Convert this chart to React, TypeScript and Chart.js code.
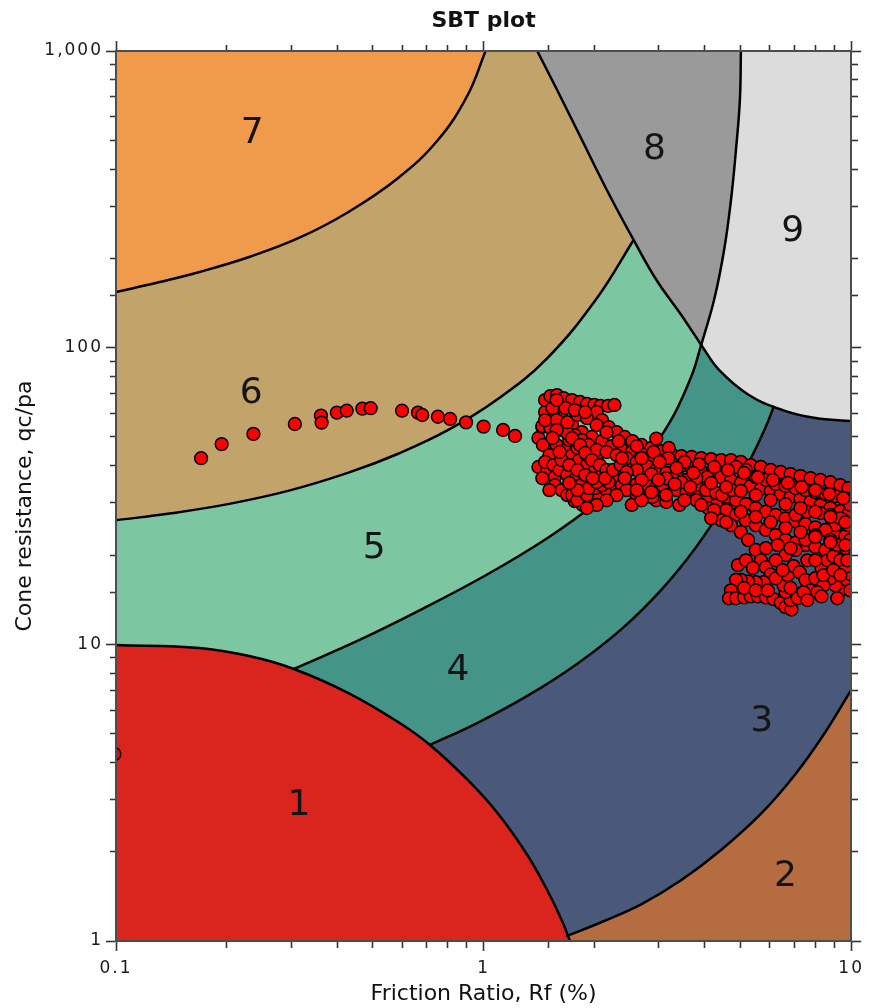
import React, { useEffect, useRef } from "react";
import { Chart, registerables } from "chart.js";

Chart.register(...registerables);

type P = [number, number];

// ---------- text ----------
const chartTitle = "SBT plot";
const xAxisTitle = "Friction Ratio, Rf (%)";
const yAxisTitle = "Cone resistance, qc/pa";

// ---------- axes ----------
const xRange: P = [0.1, 10];
const yRange: P = [1, 1000];
const xTickValues = [0.1, 1, 10];
const xTickLabels = ["0.1", "1", "10"];
const yTickValues = [1, 10, 100, 1000];
const yTickLabels = ["1", "10", "100", "1,000"];

// ---------- zone boundaries (Rf %, qc/pa) ----------
const edgeZone1: P[] = [[0.1, 9.95], [0.1687, 9.72], [0.2303, 9.13], [0.3047, 8.26], [0.4289, 6.85], [0.5856, 5.47], [0.7147, 4.58], [0.9052, 3.49], [1.091, 2.7], [1.315, 1.95], [1.489, 1.486], [1.635, 1.168], [1.718, 1.0]];
const edge2to3: P[] = [[10, 7.02], [8.508, 5.064], [7.058, 3.656], [5.676, 2.68], [4.426, 2.026], [3.453, 1.605], [2.691, 1.332], [2.097, 1.159], [1.687, 1.04]];
const edge3to4: P[] = [[0.7147, 4.58], [0.9634, 5.44], [1.315, 6.7], [1.795, 8.59], [2.376, 11.28], [3.048, 15.3], [3.788, 21.3], [4.566, 30.2], [5.334, 42.4], [5.856, 54.1], [6.155, 63.2]];
const edge4to5: P[] = [[0.3047, 8.26], [0.4566, 10.31], [0.6841, 13.2], [1.0252, 17.23], [1.489, 22.79], [2.033, 30.14], [2.608, 39.85], [3.182, 55.05], [3.675, 80.1], [3.908, 102.1]];
const edge5to6: P[] = [[0.1, 26.2], [0.1399, 27.6], [0.2033, 29.75], [0.2954, 32.96], [0.4289, 37.9], [0.5856, 43.9], [0.7993, 52.7], [1.091, 67.0], [1.489, 92.1], [2.033, 146.8], [2.559, 230.7]];
const edge6to7: P[] = [[0.1, 154], [0.1315, 166.4], [0.1687, 179.9], [0.2303, 202.1], [0.3144, 234.3], [0.4289, 286.7], [0.5856, 373.3], [0.7511, 501], [0.9052, 710.8], [1.0125, 1000]];
const edgeZone8Left: P[] = [[1.3993, 1000], [1.585, 738.9], [1.852, 501], [2.164, 340], [2.559, 230.7], [2.953, 169.1], [3.45, 128.9], [3.908, 102.1]];
const edge8to9: P[] = [[5.012, 1000], [4.98, 684], [4.859, 463.9], [4.71, 314.6], [4.51, 213], [4.236, 144.7], [3.908, 102.1]];
const edgeZone9Bottom: P[] = [[3.908, 102.1], [4.37, 84.1], [5.268, 69.24], [6.51, 61.6], [7.993, 57.9], [10, 56.6]];

// ---------- zone labels ----------
const zoneNames = ["1", "2", "3", "4", "5", "6", "7", "8", "9"];
const zoneLabelAt: P[] = [[0.3144, 2.942], [6.63, 1.695], [5.712, 5.645], [0.851, 8.39], [0.5043, 21.6], [0.2332, 72.0], [0.2346, 541], [2.917, 478], [6.928, 253]];

// ---------- CPT trace points (Rf %, qc/pa) ----------
const edgePoint: P[] = [[0.099, 4.27]];
const trailPoints: P[] = [[0.1704, 42.4], [0.1938, 47.3], [0.2365, 51.2], [0.3066, 55.3], [0.361, 59.0], [0.3625, 55.9], [0.399, 60.4], [0.4244, 61.3], [0.468, 62.3], [0.493, 62.5], [0.6, 61.3], [0.663, 60.4], [0.681, 59.3], [0.751, 58.5], [0.811, 57.5], [0.896, 56.0], [1.0, 54.2], [1.13, 52.8], [1.218, 50.4]];
const upperBand: P[] = [[1.41, 49.6], [1.445, 54.0], [1.47, 60.7], [1.47, 66.6], [1.52, 68.7], [1.584, 69.2], [1.65, 67.6], [1.74, 66.6], [1.83, 65.6], [1.91, 64.6], [2.0, 64.1], [2.08, 63.6], [2.18, 63.6], [2.27, 64.1], [2.03, 60.7], [2.1, 57.0], [2.19, 54.0], [2.3, 51.9], [2.42, 50.0], [2.54, 48.4], [2.69, 47.0], [2.86, 45.9], [3.05, 44.8], [3.24, 43.8], [3.45, 43.1], [3.68, 42.8], [3.91, 42.4], [4.16, 42.1], [4.43, 41.8], [4.71, 41.8], [5.01, 41.2], [5.33, 40.2], [5.68, 39.6], [6.04, 38.7], [6.43, 38.1], [6.84, 37.5], [7.28, 36.9], [7.75, 36.3], [8.25, 35.8], [8.78, 35.2], [9.34, 34.4], [9.82, 33.6]];
const secondBand: P[] = [[1.445, 54.4], [1.52, 53.6], [1.63, 57.9], [1.74, 54.85], [1.85, 51.9], [1.97, 50.0], [2.1, 48.4], [2.23, 46.6], [2.38, 45.2], [2.53, 44.5], [2.69, 43.8], [2.86, 43.1], [3.05, 41.8], [3.24, 40.8], [3.45, 39.9], [3.68, 39.3], [3.91, 38.4], [4.16, 37.5], [4.43, 36.6], [4.71, 35.8], [5.01, 35.0], [5.33, 34.2], [5.68, 33.4], [6.04, 32.9], [6.43, 32.1], [6.84, 31.4], [7.28, 30.9], [7.75, 30.2], [8.25, 29.5], [8.78, 28.8], [9.34, 28.1], [9.82, 27.5]];
const lowerBand: P[] = [[1.41, 39.6], [1.49, 38.7], [1.56, 36.6], [1.565, 34.4], [1.63, 33.1], [1.69, 31.85], [1.77, 30.4], [1.86, 29.5], [1.93, 30.6], [2.03, 31.85], [2.16, 33.1], [2.3, 33.9], [2.45, 34.2], [2.61, 34.7], [2.78, 34.4], [2.95, 33.9], [3.14, 33.6], [3.35, 33.1], [3.56, 32.4], [3.79, 31.4], [4.03, 30.4], [4.29, 29.5], [4.57, 28.35], [4.86, 27.3], [5.17, 26.2], [5.5, 25.2], [5.86, 24.3], [6.23, 23.35], [6.63, 22.5], [7.06, 22.0], [7.51, 21.6], [7.99, 21.3], [8.51, 20.8], [9.06, 20.3], [9.64, 19.8], [9.94, 19.2]];
const middleBand: P[] = [[1.58, 47.0], [1.67, 45.2], [1.74, 43.45], [1.82, 41.8], [1.91, 40.2], [2.01, 38.7], [2.1, 37.2], [2.19, 36.3], [2.03, 41.8], [1.91, 43.45], [1.8, 45.9], [1.71, 48.8], [1.77, 50.75], [1.85, 48.8], [1.93, 47.0], [2.03, 45.2], [2.16, 44.5], [2.3, 43.45], [2.45, 42.4], [2.61, 41.2], [2.78, 39.9], [2.95, 38.7], [3.14, 37.8], [3.35, 36.9], [3.56, 35.8], [3.79, 34.4], [4.03, 33.1], [4.29, 32.4], [4.57, 31.4], [4.86, 30.6], [5.17, 29.7], [5.5, 28.8], [5.86, 28.0], [6.23, 27.3], [6.63, 26.6], [7.06, 26.0], [7.51, 25.4], [7.99, 24.8], [8.51, 24.3], [9.06, 23.7], [9.64, 23.2]];
const bottomLobe: P[] = [[3.79, 30.6], [4.08, 28.8], [4.24, 28.0], [4.43, 26.2], [4.71, 25.2], [5.01, 23.9], [5.24, 22.5], [5.5, 20.8], [5.68, 19.2], [5.86, 18.2], [6.04, 17.2], [5.78, 16.2], [5.5, 16.2], [5.24, 16.3], [5.01, 16.5], [4.86, 16.5], [4.71, 15.2], [4.65, 14.3], [4.86, 14.3], [5.11, 14.4], [5.33, 14.5], [5.57, 14.5], [5.86, 14.4], [6.15, 14.2], [6.43, 13.8], [6.63, 13.35], [6.88, 13.1], [6.84, 14.1], [6.63, 15.0], [6.55, 15.8], [6.72, 17.1], [6.97, 18.35], [7.24, 17.5], [7.51, 16.5], [7.75, 15.2], [7.99, 16.7], [8.3, 18.1], [8.61, 19.2], [8.94, 19.8], [9.34, 19.2], [9.64, 17.8], [9.94, 16.7], [9.64, 15.8], [9.34, 15.2], [9.06, 15.8], [8.78, 16.7], [8.4, 15.8], [8.09, 15.0]];
const rightCluster: P[] = [[5.86, 35.8], [6.23, 34.7], [6.63, 34.2], [7.06, 33.6], [7.51, 33.1], [7.99, 32.6], [8.51, 32.1], [9.06, 31.6], [9.64, 31.1], [9.94, 29.5], [9.52, 26.2], [9.06, 25.2], [8.51, 24.3], [7.99, 23.35], [7.51, 22.5], [7.06, 20.8], [6.63, 20.0], [6.23, 19.2], [7.06, 27.3], [7.6, 28.0], [8.25, 27.7], [8.78, 27.3], [9.34, 26.6], [9.82, 25.2], [9.94, 22.5], [9.64, 21.1], [9.17, 21.6], [8.78, 22.5]];
const extraPoints: P[] = [[1.54, 62.6], [1.58, 57.0], [1.63, 52.8], [1.69, 51.5], [1.74, 49.6], [1.83, 47.0], [1.89, 44.2], [1.97, 41.8], [2.07, 40.2], [2.16, 38.7], [2.23, 37.2], [2.3, 35.8], [2.38, 34.4], [2.45, 33.1], [2.61, 31.85], [2.78, 31.4], [2.95, 30.6], [3.14, 30.2], [3.41, 29.5], [4.24, 28.35], [2.88, 31.4], [3.07, 34.4], [4.06, 36.6], [4.45, 31.85], [4.74, 33.1], [4.86, 39.6], [5.17, 38.7], [5.5, 36.6], [1.74, 31.85], [1.8, 30.6], [1.91, 31.85], [2.01, 33.6], [2.1, 34.4], [2.19, 35.2], [2.95, 49.4], [3.19, 45.9]];
const fillBandA: P[] = [[2.33, 48.4], [2.61, 46.6], [2.9, 44.5], [3.18, 42.4], [3.52, 41.2], [3.86, 40.5], [4.24, 39.6], [4.62, 38.7], [5.11, 37.8], [5.57, 36.6], [6.12, 35.8], [6.72, 35.0], [7.33, 33.9], [7.99, 33.1], [8.72, 32.1], [9.52, 31.1]];
const fillBandB: P[] = [[3.79, 36.3], [4.16, 35.0], [4.57, 33.9], [5.01, 32.9], [5.5, 31.85], [6.04, 30.6], [6.63, 29.7], [7.28, 28.8], [7.99, 28.0], [8.78, 26.9], [9.64, 25.8], [2.61, 38.7], [2.86, 37.5], [3.14, 36.3], [3.45, 35.2]];
const fillBandC: P[] = [[5.01, 28.0], [5.5, 26.9], [6.04, 25.8], [6.63, 24.7], [7.28, 23.9], [7.99, 23.0], [8.78, 22.1], [9.64, 21.6], [4.57, 25.8], [4.16, 26.6]];
const fillLobe: P[] = [[4.92, 18.5], [5.17, 19.2], [5.4, 18.1], [5.11, 15.5], [5.5, 15.2], [5.93, 15.2], [6.23, 16.7], [6.51, 17.8], [6.84, 15.5], [7.15, 14.3], [7.42, 15.0], [7.6, 19.2], [7.99, 19.2], [8.4, 17.1], [8.94, 17.8], [9.34, 17.1], [9.76, 19.2], [9.94, 15.2], [6.31, 21.6], [6.84, 21.1], [5.86, 21.1], [7.6, 14.1], [8.3, 14.5], [9.17, 14.3]];
const fillLeftBlob: P[] = [[1.45, 47.0], [1.51, 43.45], [1.47, 41.2], [1.55, 40.2], [1.61, 38.7], [1.69, 37.2], [1.76, 35.8], [1.84, 34.4], [1.93, 33.6], [2.03, 35.2], [2.14, 36.3], [2.25, 38.7], [2.36, 40.2], [2.45, 38.1], [2.3, 31.85], [2.16, 30.6], [2.03, 29.5], [1.91, 28.8], [1.8, 33.1], [1.71, 35.0], [1.63, 41.8], [1.71, 40.2], [1.8, 38.7], [1.89, 37.2], [1.98, 36.3], [1.58, 52.8], [1.69, 56.1], [1.8, 59.3], [1.91, 57.9], [2.03, 54.85], [2.16, 51.9], [1.67, 62.6], [1.77, 61.6], [1.89, 60.7], [1.47, 57.0], [1.54, 49.6], [1.61, 44.5], [1.445, 36.3], [1.51, 33.1], [2.53, 29.5], [2.69, 30.6], [1.58, 66.6]];
const fillMiddle: P[] = [[2.42, 36.3], [2.69, 35.8], [2.99, 35.8], [3.31, 34.7], [3.65, 33.9], [2.61, 33.1], [2.86, 32.6], [3.14, 31.85], [3.52, 30.6], [3.91, 29.5], [2.38, 42.4], [2.69, 42.4], [3.01, 41.2], [3.35, 39.3], [3.72, 37.8]];

// ---------- styles ----------
const zoneColor = {
  z1: "#DA251E", z2: "#B56C41", z3: "#4A5979", z4: "#449488", z5: "#7CC6A2",
  z6: "#C2A46A", z7: "#F09B4C", z8: "#9A9A9A", z9: "#DCDCDC",
};
const FONT = '"DejaVu Sans", Verdana, sans-serif';

const boundaries: P[][] = [edgeZone1, edge2to3, edge3to4, edge4to5, edge5to6, edge6to7, edgeZone8Left, edge8to9, edgeZone9Bottom];

type Piece = { e: number; from: number; to: number } | { p: P };
const E = (e: number, from?: number, to?: number): Piece => ({
  e,
  from: from ?? 0,
  to: to ?? boundaries[e].length - 1,
});
const C = (p: P): Piece => ({ p });
const last = (a: P[]) => a[a.length - 1];

const zones: { color: string; pieces: Piece[] }[] = [
  { color: zoneColor.z3, pieces: [C([xRange[0], yRange[0]]), C([xRange[1], yRange[0]]), C([xRange[1], yRange[1]]), C([xRange[0], yRange[1]])] },
  { color: zoneColor.z2, pieces: [E(1), C([last(edge2to3)[0], yRange[0]]), C([xRange[1], yRange[0]])] },
  { color: zoneColor.z4, pieces: [C([xRange[0], yRange[0]]), E(2), C([last(edge3to4)[0], yRange[1]]), C([xRange[0], yRange[1]])] },
  { color: zoneColor.z5, pieces: [C([xRange[0], yRange[0]]), E(3), C([last(edge4to5)[0], yRange[1]]), C([xRange[0], yRange[1]])] },
  { color: zoneColor.z6, pieces: [E(4), E(6, 4, 0), C([xRange[0], yRange[1]])] },
  { color: zoneColor.z7, pieces: [E(5), C([xRange[0], yRange[1]])] },
  { color: zoneColor.z8, pieces: [E(6), E(7, edge8to9.length - 1, 0)] },
  { color: zoneColor.z9, pieces: [E(7), E(8), C([xRange[1], yRange[1]])] },
  { color: zoneColor.z1, pieces: [E(0), C([xRange[0], yRange[0]])] },
];

const allPoints: P[] = [...edgePoint, ...trailPoints, ...upperBand, ...secondBand, ...lowerBand, ...middleBand, ...bottomLobe, ...rightCluster, ...extraPoints, ...fillBandA, ...fillBandB, ...fillBandC, ...fillLobe, ...fillLeftBlob, ...fillMiddle];

const toXY = (pts: P[]) => pts.map(([x, y]) => ({ x, y }));
const isDecade = (v: number) => {
  const l = Math.log10(v);
  return Math.abs(l - Math.round(l)) < 1e-6;
};
const labelFor = (values: number[], labels: string[]) => (v: any) => {
  const n = Number(v);
  const i = values.findIndex((t) => Math.abs(Math.log10(t) - Math.log10(n)) < 1e-6);
  return i >= 0 ? labels[i] : "";
};

const zonePlugin = {
  id: "sbtZones",
  beforeDraw(chart: any) {
    const { ctx, chartArea: a, scales } = chart;
    const sx = scales.x, sy = scales.y;
    boundaries.forEach((_, k) => {
      const meta = chart.getDatasetMeta(k + 1);
      if (meta && meta.dataset && meta.dataset.updateControlPoints) meta.dataset.updateControlPoints(a, "x");
    });
    const trace = (piece: Piece, first: boolean) => {
      if ("p" in piece) {
        const X = sx.getPixelForValue(piece.p[0]);
        const Y = sy.getPixelForValue(piece.p[1]);
        if (first) ctx.moveTo(X, Y);
        else ctx.lineTo(X, Y);
        return;
      }
      const pts = chart.getDatasetMeta(piece.e + 1).data;
      const s = pts[piece.from];
      if (first) ctx.moveTo(s.x, s.y);
      else ctx.lineTo(s.x, s.y);
      const step = piece.to >= piece.from ? 1 : -1;
      for (let i = piece.from; i !== piece.to; i += step) {
        const p0 = pts[i], p1 = pts[i + step];
        if (step > 0) ctx.bezierCurveTo(p0.cp2x ?? p0.x, p0.cp2y ?? p0.y, p1.cp1x ?? p1.x, p1.cp1y ?? p1.y, p1.x, p1.y);
        else ctx.bezierCurveTo(p0.cp1x ?? p0.x, p0.cp1y ?? p0.y, p1.cp2x ?? p1.x, p1.cp2y ?? p1.y, p1.x, p1.y);
      }
    };
    ctx.save();
    ctx.beginPath();
    ctx.rect(a.left, a.top, a.right - a.left, a.bottom - a.top);
    ctx.clip();
    zones.forEach((z) => {
      ctx.beginPath();
      z.pieces.forEach((pc, i) => trace(pc, i === 0));
      ctx.closePath();
      ctx.fillStyle = z.color;
      ctx.fill();
    });
    ctx.font = `36px ${FONT}`;
    ctx.fillStyle = "#141414";
    ctx.textAlign = "center";
    ctx.textBaseline = "alphabetic";
    zoneNames.forEach((n, i) => {
      const [x, y] = zoneLabelAt[i];
      ctx.fillText(n, sx.getPixelForValue(x), sy.getPixelForValue(y) + 13);
    });
    ctx.restore();
    (ctx as any).letterSpacing = "2px";
  },
  afterDraw(chart: any) {
    const { ctx, chartArea: a } = chart;
    (ctx as any).letterSpacing = "0px";
    ctx.save();
    ctx.fillStyle = "#111";
    ctx.textAlign = "center";
    ctx.textBaseline = "alphabetic";
    const cx = (a.left + a.right) / 2;
    ctx.font = `bold 22px ${FONT}`;
    ctx.fillText(chartTitle, cx, a.top - 24);
    ctx.font = `22px ${FONT}`;
    ctx.fillText(xAxisTitle, cx, a.bottom + 59);
    ctx.translate(a.left - 85, (a.top + a.bottom) / 2 + 10);
    ctx.rotate(-Math.PI / 2);
    ctx.fillText(yAxisTitle, 0, 0);
    ctx.restore();
  },
};

function makeScale(kind: "x" | "y", position: string, range: P, labels: ((v: any) => string) | null, size: number, outerFirst: boolean) {
  return {
    type: "logarithmic",
    position,
    min: range[0],
    max: range[1],
    display: true,
    grid: {
      display: true,
      drawOnChartArea: false,
      drawTicks: true,
      tickLength: 10,
      tickColor: "#333",
      tickWidth: 1.6,
      tickBorderDash: (c: any) => (c.tick && isDecade(c.tick.value) ? [] : outerFirst ? [0, 4, 100, 0] : [6, 100]),
    },
    border: { display: true, color: "#4d4d4d", width: 2, z: 1 },
    ticks: {
      autoSkip: false,
      maxRotation: 0,
      minRotation: 0,
      padding: kind === "x" ? 7 : 3,
      color: "#1a1a1a",
      font: { family: FONT, size: 17 },
      callback: (v: any) => (labels ? labels(v) : ""),
    },
    title: { display: false },
    afterFit: (s: any) => {
      if (kind === "x") s.height = size;
      else s.width = size;
    },
  };
}

export default function App() {
  const ref = useRef<HTMLCanvasElement | null>(null);
  useEffect(() => {
    if (!ref.current) return;
    const chart = new Chart(ref.current, {
      type: "scatter",
      data: {
        datasets: [
          {
            data: toXY(allPoints),
            pointRadius: 6.4,
            pointBackgroundColor: "#FF0000",
            pointBorderColor: "#000",
            pointBorderWidth: 1.5,
            showLine: false,
            clip: 0,
          } as any,
          ...(boundaries.map((b) => ({
            data: toXY(b),
            showLine: true,
            pointRadius: 0,
            borderColor: "#000",
            borderWidth: 2.5,
            borderJoinStyle: "round",
            borderCapStyle: "round",
            tension: 0.4,
            fill: false,
            clip: 0,
          })) as any),
        ],
      },
      options: {
        animation: false,
        responsive: true,
        maintainAspectRatio: false,
        events: [],
        layout: { padding: 0 },
        plugins: { legend: { display: false }, tooltip: { enabled: false }, title: { display: false } },
        scales: {
          x: makeScale("x", "bottom", xRange, labelFor(xTickValues, xTickLabels), 67, false),
          xTop: makeScale("x", "top", xRange, null, 51, true),
          y: makeScale("y", "left", yRange, labelFor(yTickValues, yTickLabels), 116, true),
          yRight: makeScale("y", "right", yRange, null, 13, false),
        } as any,
      },
      plugins: [zonePlugin as any],
    });
    return () => chart.destroy();
  }, []);
  return (
    <div style={{ position: "absolute", left: 0, top: 0, width: 869, height: 1008 }}>
      <canvas ref={ref} style={{ display: "block" }} />
    </div>
  );
}
